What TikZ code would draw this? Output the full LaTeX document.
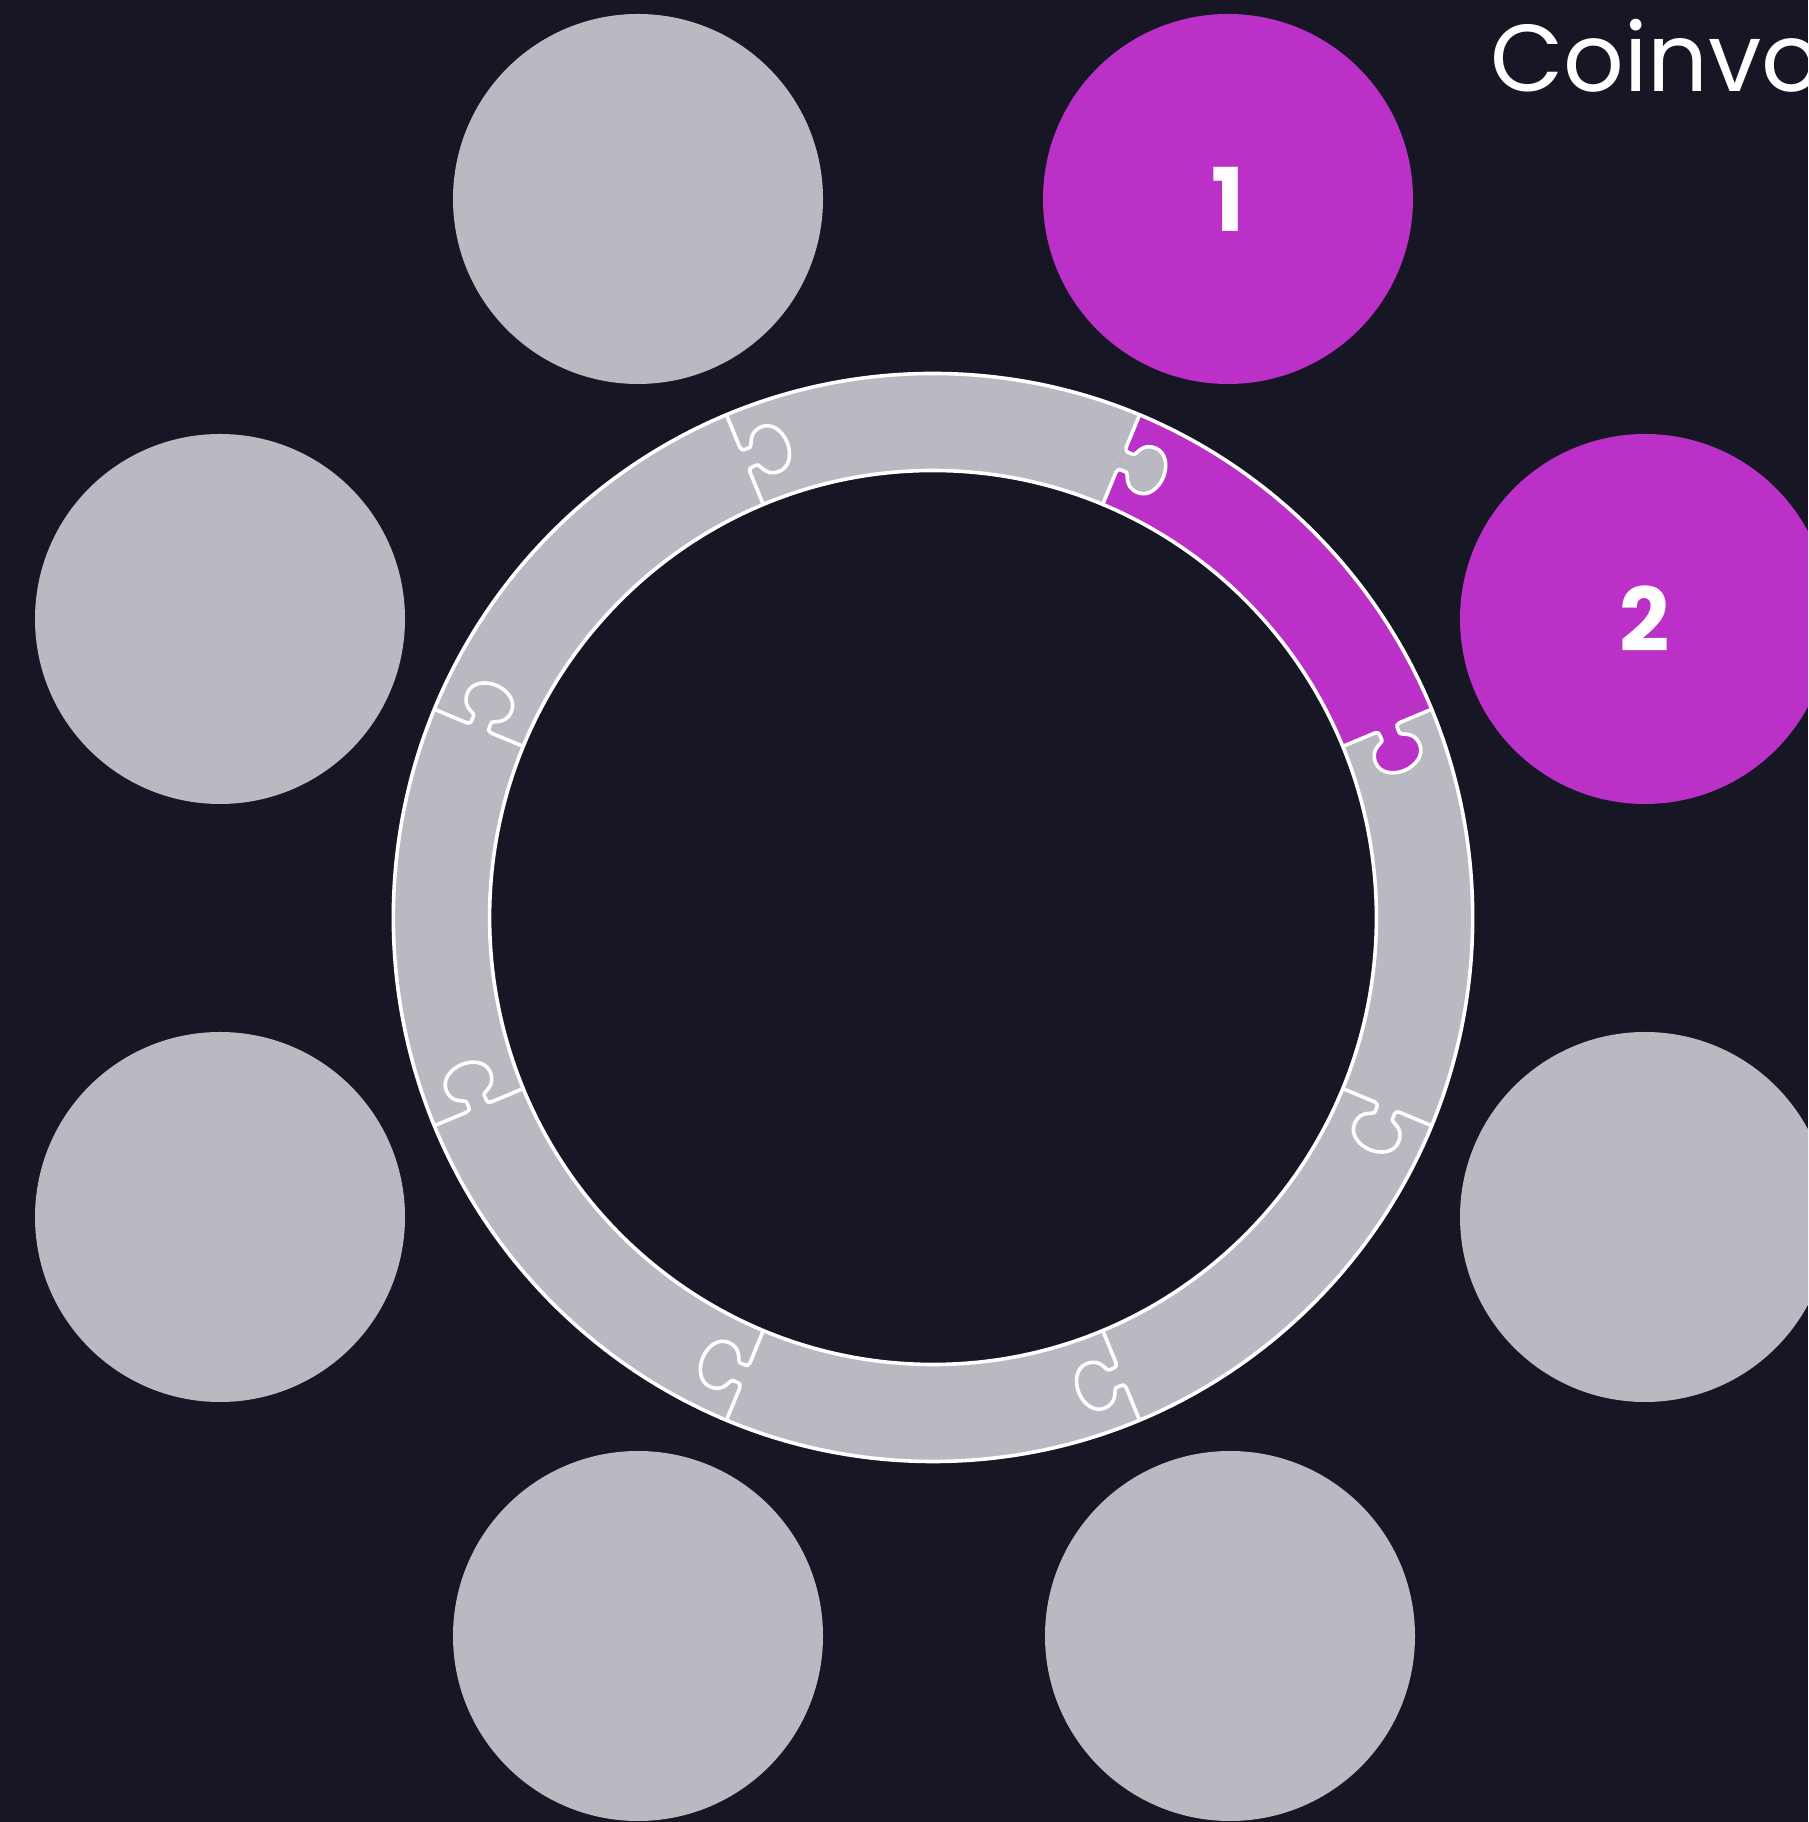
\documentclass[tikz,border=0pt]{standalone}
\usepackage{fontspec}
\setmainfont{Poppins}
\definecolor{bg}{HTML}{171625}
\definecolor{chip}{HTML}{B9B9C1}
\definecolor{purp}{HTML}{BB30C7}
\begin{document}
\begin{tikzpicture}[x=1pt,y=1pt,
  chipc/.style={circle, minimum size=370pt, inner sep=0pt, fill=chip},
  chipp/.style={circle, minimum size=370pt, inner sep=0pt, fill=purp, text=white,
    font=\fontsize{88}{88}\selectfont\bfseries},
  ringline/.style={draw=white, line width=3.6pt, line join=round, line cap=round},
  knobcore/.style={insert path={(509,0) .. controls (506,0) and (505,-1.5) .. (505,-5)
     -- (505,-9) .. controls (505,-13) and (519.5,-12) .. (519.5,-28)
     .. controls (519.5,-39) and (508,-46) .. (495.5,-46)
     .. controls (483,-46) and (471.5,-39) .. (471.5,-28)
     .. controls (471.5,-12) and (486,-13) .. (486,-9)
     -- (486,-5) .. controls (486,-1.5) and (485,0) .. (482,0) -- cycle}},
  knobfull/.style={insert path={(544,0) -- (509,0) .. controls (506,0) and (505,-1.5) .. (505,-5)
     -- (505,-9) .. controls (505,-13) and (519.5,-12) .. (519.5,-28)
     .. controls (519.5,-39) and (508,-46) .. (495.5,-46)
     .. controls (483,-46) and (471.5,-39) .. (471.5,-28)
     .. controls (471.5,-12) and (486,-13) .. (486,-9)
     -- (486,-5) .. controls (486,-1.5) and (485,0) .. (482,0) -- (447,0)}}
]
\useasboundingbox (0,0) rectangle (1808,1822);
\clip (0,0) rectangle (1808,1822);
\fill[bg] (0,0) rectangle (1808,1822);

% chips
\node[chipc] (tl) at (638,1623) {};
\node[chipp] (tr) at (1228,1623) {1};
\node[chipp] (r) at (1645,1203) {2};
\node[chipc] (l) at (220,1203) {};
\node[chipc] (ll) at (220,605) {};
\node[chipc] (rl) at (1645,605) {};
\node[chipc] (bl) at (638,186) {};
\node[chipc] (br) at (1230,186) {};

% title
\node[anchor=base west, inner sep=0pt, text=white, font=\fontsize{95}{95}\selectfont] (title) at (1490,1730) {Coinvo};

% ring
\begin{scope}[shift={(933,904.5)}, xscale=0.992]
  \fill[chip, even odd rule] (0,0) circle[radius=544] (0,0) circle[radius=447];
  \fill[purp] (22.5:447) -- (22.5:544) arc[start angle=22.5, end angle=67.5, radius=544]
     -- (67.5:447) arc[start angle=67.5, end angle=22.5, radius=447] -- cycle;
  \begin{scope}[rotate=22.5] \fill[purp, knobcore]; \end{scope}
  \begin{scope}[rotate=67.5] \fill[chip, knobcore]; \end{scope}
  \draw[ringline] (0,0) circle[radius=544];
  \draw[ringline] (0,0) circle[radius=447];
  \foreach \a in {22.5,67.5,112.5,157.5,202.5,247.5,292.5,337.5} {
    \begin{scope}[rotate=\a] \draw[ringline, knobfull]; \end{scope}
  }
\end{scope}
\end{tikzpicture}
\end{document}
